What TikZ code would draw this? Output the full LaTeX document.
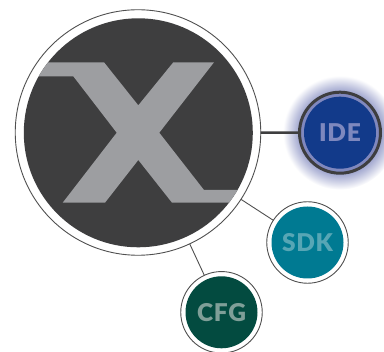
\documentclass[tikz,border=0pt]{standalone}
\usepackage{fontspec}
\newfontfamily\lblfont{Lato Black}[LetterSpace=3]
\definecolor{hubdark}{HTML}{3E3E3F}
\definecolor{xgrey}{HTML}{9D9EA1}
\definecolor{linegrey}{HTML}{505050}
\definecolor{ideblue}{HTML}{123A8A}
\definecolor{idetext}{HTML}{7E88BE}
\definecolor{idering}{HTML}{8088BE}
\definecolor{sdkteal}{HTML}{007A92}
\definecolor{sdktext}{HTML}{57A6B5}
\definecolor{cfggreen}{HTML}{034B40}
\definecolor{cfgtext}{HTML}{7F9F98}
\pgfdeclareradialshading{ideglow}{\pgfpoint{0bp}{0bp}}{
  color(0bp)=(idering!75!white);
  color(18bp)=(idering!75!white);
  color(20bp)=(idering!55!white);
  color(22.5bp)=(idering!28!white);
  color(25bp)=(white);
  color(50bp)=(white)}
\tikzset{
  ringnode/.style={circle,draw=linegrey,line width=0.9pt,fill=white,minimum size=81.5pt,inner sep=0pt,outer sep=0pt},
  hubring/.style={ringnode,minimum size=245.5pt},
  discnode/.style={circle,minimum size=72pt,inner sep=0pt,outer sep=0pt,font=\lblfont\fontsize{24.5}{28}\selectfont},
  thinlink/.style={draw=linegrey,line width=0.9pt},
  thicklink/.style={draw=hubdark,line width=2.4pt},
}
\begin{document}
\begin{tikzpicture}[x=1pt,y=-1pt]
\useasboundingbox (0,0) rectangle (384,352);
\shade[shading=ideglow] (340,132.7) circle (57);
% hub
\node[hubring] (hub) at (138,132.5) {};
\node[circle,fill=hubdark,minimum size=229pt,inner sep=0pt,outer sep=0pt] (hubcore) at (138.3,132.8) {};
\begin{scope}
  \clip (hubcore.center) circle (114.5);
  \fill[xgrey] (30,62.3) -- (104,62.3) -- (138.3,105.3) -- (173.3,62.3) -- (214,62.3)
    -- (159.3,132.7) -- (204,190) -- (250,190) -- (250,202.7) -- (172,202.7)
    -- (138.3,160) -- (105,202.7) -- (62.7,202.7) -- (116.7,132.7) -- (73.3,76.3) -- (30,76.3) -- cycle;
\end{scope}
% satellites
\node[ringnode,draw=hubdark,line width=3pt,fill=idering,minimum size=81pt] (ide) at (340,132.7) {};
\node[discnode,fill=ideblue,text=idetext] (idelabel) at (ide.center) {IDE};
\node[ringnode] (sdk) at (307.5,242.5) {};
\node[discnode,fill=sdkteal,text=sdktext] (sdklabel) at (sdk.center) {SDK};
\node[ringnode] (cfg) at (221.5,312.3) {};
\node[discnode,fill=cfggreen,text=cfgtext] (cfglabel) at (cfg.center) {CFG};
% connectors
\draw[thicklink] (hub) -- (ide);
\draw[thinlink] (hub) -- (sdk);
\draw[thinlink] (hub) -- (cfg);
\end{tikzpicture}
\end{document}
